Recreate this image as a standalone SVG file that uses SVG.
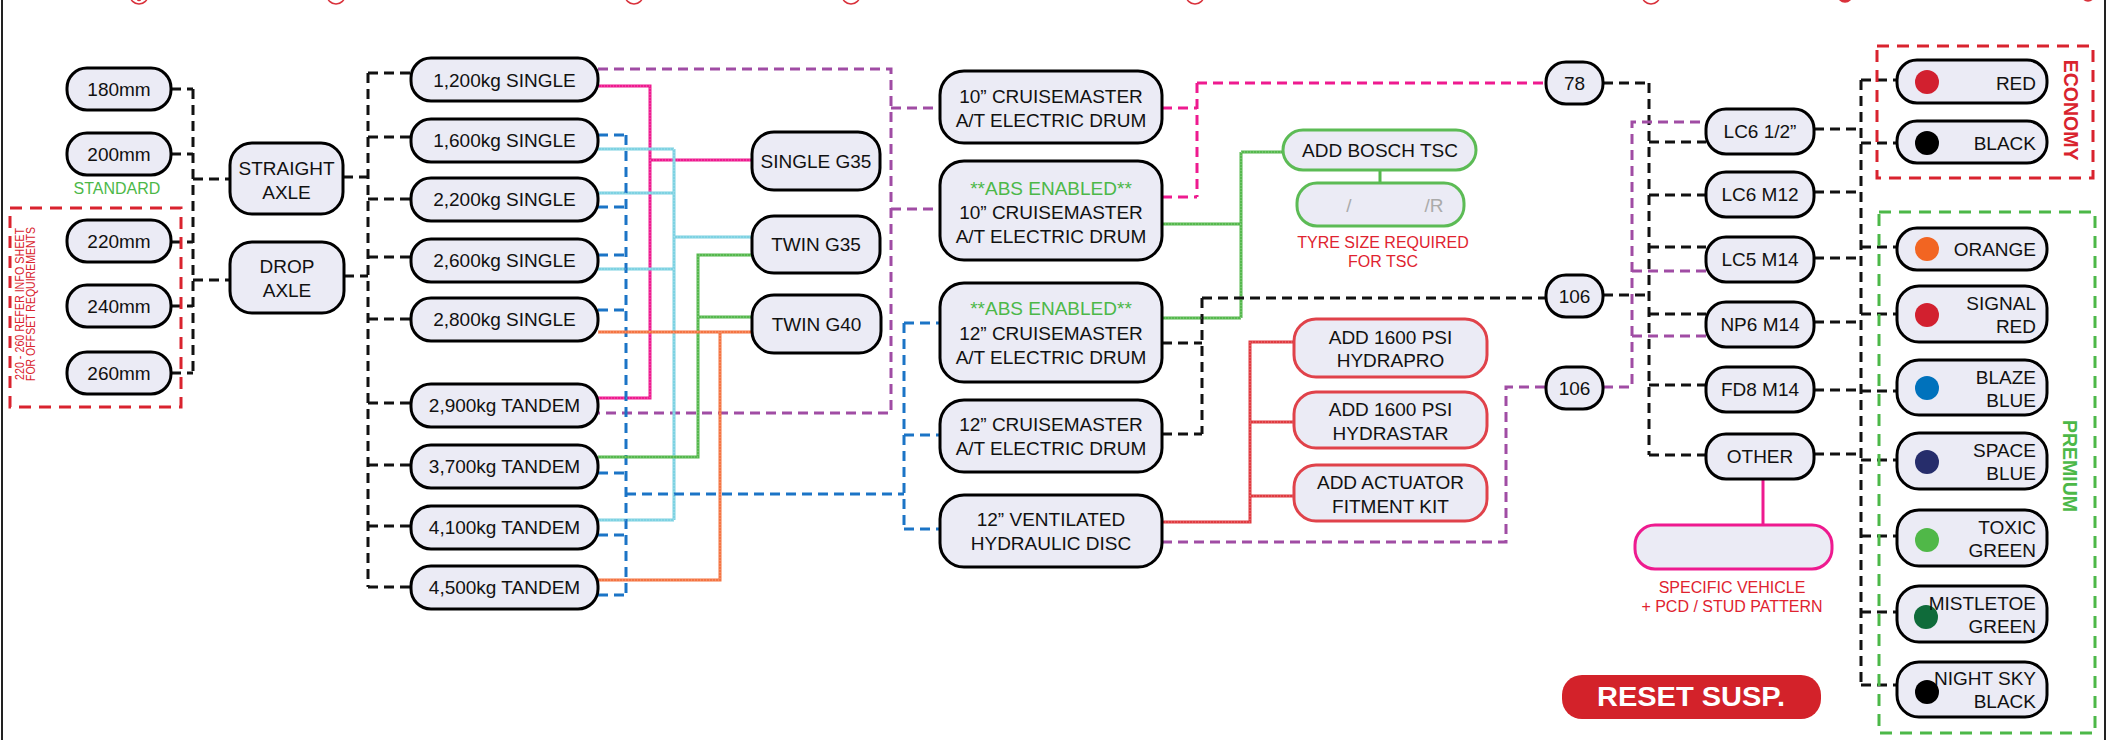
<svg xmlns="http://www.w3.org/2000/svg" width="2109" height="740" viewBox="0 0 2109 740">
<style>
.n{fill:#ebebf5;stroke:#000;stroke-width:3}
.ng{fill:#ebebf5;stroke:#5cbb55;stroke-width:3}
.nr{fill:#ebebf5;stroke:#e0424a;stroke-width:3}
.np{fill:#ebebf5;stroke:#ee1a8f;stroke-width:3}
.t{font-family:"Liberation Sans",Arial,sans-serif;font-size:19px;fill:#111;text-anchor:middle}
.tr{font-family:"Liberation Sans",Arial,sans-serif;font-size:19px;fill:#111;text-anchor:end}
.tg{fill:#4cb848}
.lbl{font-family:"Liberation Sans",Arial,sans-serif;font-size:16px;text-anchor:middle}
.d{fill:none;stroke-width:3;stroke-dasharray:10 6}
.k{stroke:#111}
.pu{stroke:#a04ca4}
.bl{stroke:#1b74c6}
.pk{stroke:#ee1a8f}
.s{fill:none;stroke-width:3}
.cy{stroke:#7dd2e2}
.gr{stroke:#55b84d}
.or{stroke:#f47442}
.rd{stroke:#e03a40}
.tex{fill:none;stroke:#fff;stroke-width:1;stroke-dasharray:1 2;opacity:0.35}
</style>
<g id="frame">
<line x1="2" y1="0" x2="2" y2="740" stroke="#222" stroke-width="2"/>
<line x1="2105" y1="0" x2="2105" y2="740" stroke="#222" stroke-width="2"/>
<g fill="none" stroke="#d9303a" stroke-width="1.5">
<circle cx="139" cy="-5" r="9"/><circle cx="139" cy="-1" r="1.5" fill="#d9303a"/>
<circle cx="336" cy="-5" r="9"/>
<circle cx="634" cy="-5" r="9"/>
<circle cx="851" cy="-5" r="9"/>
<circle cx="1195" cy="-5" r="9"/>
<circle cx="1651" cy="-5" r="9"/>
<circle cx="1845" cy="-5" r="7" fill="#d9303a"/>
<circle cx="2088" cy="-5" r="6" fill="#d9303a"/>
</g>
</g>
<g id="connectors">
<path class="d k" d="M171 89H193M171 154H193M171 242H193M171 306H193M171 373H193M193 89V373M193 179H230M193 280H230"/>
<path class="d k" d="M343 177H368M344 276H368M368 73V587M368 73H411M368 137H411M368 199H411M368 257H411M368 319H411M368 403H411M368 465H411M368 526H411M368 587H411"/>
<path class="d pu" d="M598 69H891V413H598M891 108H940M891 209H940"/>
<path class="s pk" d="M598 86H650V398H598M650 160H752"/>
<path class="s cy" d="M598 149H674M598 193H674M598 269H674M598 520H674M674 149V520M674 237H752"/>
<path class="d bl" d="M598 135H626M598 207H626M598 255H626M598 310H626M598 473H626M598 535H626M598 595H626M626 135V595M626 494H904M904 323V529M904 323H940M904 435H940M904 529H940"/>
<path class="s gr" d="M598 457H698V255H752M698 317H752"/>
<path class="s or" d="M598 332H752M598 580H720V332"/>
<path class="d pk" d="M1162 108H1197M1162 197H1197M1197 83V197M1197 83H1546"/>
<path class="s gr" d="M1162 224H1241M1162 318H1241M1241 152V318M1241 152H1283M1380 170V183"/>
<path class="d k" d="M1162 343H1202M1162 434H1202M1202 298V434M1202 298H1546"/>
<path class="s rd" d="M1162 522H1250V342H1294M1250 422H1294M1250 496H1294"/>
<path class="d pu" d="M1162 542H1506V387H1546"/>
<path class="d k" d="M1603 83H1649M1603 295H1649M1649 83V455M1649 142H1706M1649 195H1706M1649 247H1706M1649 314H1706M1649 385H1706M1649 455H1706"/>
<path class="d pu" d="M1603 387H1632V122H1706M1632 271H1706M1632 336H1706"/>
<path class="d k" d="M1814 129H1861M1814 192H1861M1814 258H1861M1814 322H1861M1814 390H1861M1814 454H1861M1861 80V685M1861 80H1897M1861 143H1897M1861 247H1897M1861 314H1897M1861 391H1897M1861 460H1897M1861 536H1897M1861 612H1897M1861 685H1897"/>
<path class="s pk" d="M1763 480V525" stroke-width="2"/>
<path class="tex" d="M598 86H650V398H598M650 160H752M598 149H674M598 193H674M598 269H674M598 520H674M674 149V520M674 237H752M598 457H698V255H752M698 317H752M598 332H752M598 580H720V332M1162 224H1241M1162 318H1241M1241 152V318M1241 152H1283M1162 522H1250V342H1294M1250 422H1294M1250 496H1294"/>
</g>
<g id="groups">
<rect x="10" y="208" width="171" height="199" fill="none" stroke="#d9232e" stroke-width="3" stroke-dasharray="12 8"/>
<text transform="translate(24,304) rotate(-90)" font-family="Liberation Sans,Arial,sans-serif" font-size="12" fill="#d9232e" text-anchor="middle" textLength="152" lengthAdjust="spacingAndGlyphs">220 - 260 REFER INFO SHEET</text>
<text transform="translate(35,304) rotate(-90)" font-family="Liberation Sans,Arial,sans-serif" font-size="12" fill="#d9232e" text-anchor="middle" textLength="154" lengthAdjust="spacingAndGlyphs">FOR OFFSET REQUIREMENTS</text>
<text class="lbl" x="117" y="194" fill="#4cb848">STANDARD</text>
<rect x="1877" y="46" width="216" height="132" fill="none" stroke="#d9232e" stroke-width="3" stroke-dasharray="12 8"/>
<text transform="translate(2064,110) rotate(90)" font-family="Liberation Sans,Arial,sans-serif" font-size="19.5" font-weight="bold" fill="#d9232e" text-anchor="middle">ECONOMY</text>
<rect x="1879" y="212" width="216" height="521" fill="none" stroke="#4cb848" stroke-width="3" stroke-dasharray="12 8"/>
<text transform="translate(2063,466) rotate(90)" font-family="Liberation Sans,Arial,sans-serif" font-size="19.5" font-weight="bold" fill="#4cb848" text-anchor="middle">PREMIUM</text>
</g>
<g id="n180"><rect class="n" x="67" y="68" width="104" height="42" rx="20"/><text class="t" x="119" y="96">180mm</text></g>
<g id="n200"><rect class="n" x="67" y="133" width="104" height="42" rx="20"/><text class="t" x="119" y="161">200mm</text></g>
<g id="n220"><rect class="n" x="67" y="220" width="104" height="42" rx="20"/><text class="t" x="119" y="248">220mm</text></g>
<g id="n240"><rect class="n" x="67" y="285" width="104" height="42" rx="20"/><text class="t" x="119" y="313">240mm</text></g>
<g id="n260"><rect class="n" x="67" y="352" width="104" height="42" rx="20"/><text class="t" x="119" y="380">260mm</text></g>
<g id="straight"><rect class="n" x="230" y="143" width="113" height="71" rx="22"/><text class="t" x="286.5" y="175">STRAIGHT</text><text class="t" x="286.5" y="199">AXLE</text></g>
<g id="drop"><rect class="n" x="230" y="242" width="114" height="71" rx="22"/><text class="t" x="287" y="273">DROP</text><text class="t" x="287" y="297">AXLE</text></g>
<g id="w1200"><rect class="n" x="411" y="58" width="187" height="43" rx="20"/><text class="t" x="504.5" y="87">1,200kg SINGLE</text></g>
<g id="w1600"><rect class="n" x="411" y="119" width="187" height="43" rx="20"/><text class="t" x="504.5" y="147">1,600kg SINGLE</text></g>
<g id="w2200"><rect class="n" x="411" y="178" width="187" height="43" rx="20"/><text class="t" x="504.5" y="206">2,200kg SINGLE</text></g>
<g id="w2600"><rect class="n" x="411" y="239" width="187" height="43" rx="20"/><text class="t" x="504.5" y="267">2,600kg SINGLE</text></g>
<g id="w2800"><rect class="n" x="411" y="298" width="187" height="43" rx="20"/><text class="t" x="504.5" y="326">2,800kg SINGLE</text></g>
<g id="w2900"><rect class="n" x="411" y="384" width="187" height="43" rx="20"/><text class="t" x="504.5" y="412">2,900kg TANDEM</text></g>
<g id="w3700"><rect class="n" x="411" y="445" width="187" height="43" rx="20"/><text class="t" x="504.5" y="473">3,700kg TANDEM</text></g>
<g id="w4100"><rect class="n" x="411" y="506" width="187" height="43" rx="20"/><text class="t" x="504.5" y="534">4,100kg TANDEM</text></g>
<g id="w4500"><rect class="n" x="411" y="566" width="187" height="43" rx="20"/><text class="t" x="504.5" y="594">4,500kg TANDEM</text></g>
<g id="sg35"><rect class="n" x="752" y="132" width="128" height="58" rx="22"/><text class="t" x="816" y="168">SINGLE G35</text></g>
<g id="tg35"><rect class="n" x="752" y="216" width="128" height="57" rx="22"/><text class="t" x="816" y="251">TWIN G35</text></g>
<g id="tg40"><rect class="n" x="752" y="295" width="129" height="58" rx="22"/><text class="t" x="816.5" y="331">TWIN G40</text></g>
<g id="b10"><rect class="n" x="940" y="71" width="222" height="72" rx="24"/><text class="t" x="1051" y="103">10” CRUISEMASTER</text><text class="t" x="1051" y="127">A/T ELECTRIC DRUM</text></g>
<g id="b10abs"><rect class="n" x="940" y="161" width="222" height="99" rx="24"/><text class="t tg" x="1051" y="195">**ABS ENABLED**</text><text class="t" x="1051" y="219">10” CRUISEMASTER</text><text class="t" x="1051" y="243">A/T ELECTRIC DRUM</text></g>
<g id="b12abs"><rect class="n" x="940" y="283" width="222" height="99" rx="24"/><text class="t tg" x="1051" y="315">**ABS ENABLED**</text><text class="t" x="1051" y="340">12” CRUISEMASTER</text><text class="t" x="1051" y="364">A/T ELECTRIC DRUM</text></g>
<g id="b12"><rect class="n" x="940" y="400" width="222" height="72" rx="24"/><text class="t" x="1051" y="431">12” CRUISEMASTER</text><text class="t" x="1051" y="455">A/T ELECTRIC DRUM</text></g>
<g id="bvent"><rect class="n" x="940" y="495" width="222" height="72" rx="24"/><text class="t" x="1051" y="526">12” VENTILATED</text><text class="t" x="1051" y="550">HYDRAULIC DISC</text></g>
<g id="bosch"><rect class="ng" x="1283" y="130" width="193" height="40" rx="20"/><text class="t" x="1380" y="157">ADD BOSCH TSC</text></g>
<g id="tyre"><rect class="ng" x="1297" y="183" width="167" height="43" rx="20"/><text class="t" x="1349" y="212" style="fill:#aaa">/</text><text class="t" x="1434" y="212" style="fill:#aaa">/R</text>
<text class="lbl" x="1383" y="248" fill="#e0232f">TYRE SIZE REQUIRED</text><text class="lbl" x="1383" y="267" fill="#e0232f">FOR TSC</text></g>
<g id="hydrapro"><rect class="nr" x="1294" y="319" width="193" height="58" rx="22"/><text class="t" x="1390.5" y="344">ADD 1600 PSI</text><text class="t" x="1390.5" y="367">HYDRAPRO</text></g>
<g id="hydrastar"><rect class="nr" x="1294" y="392" width="193" height="56" rx="22"/><text class="t" x="1390.5" y="416">ADD 1600 PSI</text><text class="t" x="1390.5" y="440">HYDRASTAR</text></g>
<g id="actuator"><rect class="nr" x="1294" y="465" width="193" height="56" rx="22"/><text class="t" x="1390.5" y="489">ADD ACTUATOR</text><text class="t" x="1390.5" y="513">FITMENT KIT</text></g>
<g id="p78"><rect class="n" x="1546" y="62" width="57" height="42" rx="20"/><text class="t" x="1574.5" y="90">78</text></g>
<g id="p106a"><rect class="n" x="1546" y="275" width="57" height="42" rx="20"/><text class="t" x="1574.5" y="303">106</text></g>
<g id="p106b"><rect class="n" x="1546" y="367" width="57" height="42" rx="20"/><text class="t" x="1574.5" y="395">106</text></g>
<g id="lc612"><rect class="n" x="1706" y="109" width="108" height="45" rx="20"/><text class="t" x="1760" y="138">LC6 1/2”</text></g>
<g id="lc6m12"><rect class="n" x="1706" y="172" width="108" height="45" rx="20"/><text class="t" x="1760" y="201">LC6 M12</text></g>
<g id="lc5m14"><rect class="n" x="1706" y="237" width="108" height="45" rx="20"/><text class="t" x="1760" y="266">LC5 M14</text></g>
<g id="np6m14"><rect class="n" x="1706" y="302" width="108" height="45" rx="20"/><text class="t" x="1760" y="331">NP6 M14</text></g>
<g id="fd8m14"><rect class="n" x="1706" y="367" width="108" height="45" rx="20"/><text class="t" x="1760" y="396">FD8 M14</text></g>
<g id="other"><rect class="n" x="1706" y="434" width="108" height="45" rx="20"/><text class="t" x="1760" y="463">OTHER</text></g>
<g id="vehicle"><rect class="np" x="1635" y="525" width="197" height="44" rx="20"/>
<text class="lbl" x="1732" y="593" fill="#e0232f">SPECIFIC VEHICLE</text><text class="lbl" x="1732" y="612" fill="#e0232f">+ PCD / STUD PATTERN</text></g>
<g id="cred"><rect class="n" x="1897" y="60" width="150" height="43" rx="20"/><circle cx="1927" cy="82" r="12" fill="#d2202f"/><text class="tr" x="2036" y="90">RED</text></g>
<g id="cblack"><rect class="n" x="1897" y="121" width="150" height="42" rx="20"/><circle cx="1927" cy="143" r="12" fill="#000"/><text class="tr" x="2036" y="150">BLACK</text></g>
<g id="corange"><rect class="n" x="1897" y="228" width="150" height="42" rx="20"/><circle cx="1927" cy="249" r="12" fill="#f26522"/><text class="tr" x="2036" y="256">ORANGE</text></g>
<g id="csignal"><rect class="n" x="1897" y="286" width="150" height="56" rx="22"/><circle cx="1927" cy="315" r="12" fill="#d2202f"/><text class="tr" x="2036" y="310">SIGNAL</text><text class="tr" x="2036" y="333">RED</text></g>
<g id="cblaze"><rect class="n" x="1897" y="360" width="150" height="55" rx="22"/><circle cx="1927" cy="388" r="12" fill="#0072bc"/><text class="tr" x="2036" y="384">BLAZE</text><text class="tr" x="2036" y="407">BLUE</text></g>
<g id="cspace"><rect class="n" x="1897" y="433" width="150" height="56" rx="22"/><circle cx="1927" cy="462" r="12" fill="#262d6b"/><text class="tr" x="2036" y="457">SPACE</text><text class="tr" x="2036" y="480">BLUE</text></g>
<g id="ctoxic"><rect class="n" x="1897" y="510" width="150" height="56" rx="22"/><circle cx="1927" cy="540" r="12" fill="#50b848"/><text class="tr" x="2036" y="534">TOXIC</text><text class="tr" x="2036" y="557">GREEN</text></g>
<g id="cmistle"><rect class="n" x="1897" y="586" width="150" height="56" rx="22"/><circle cx="1926" cy="617" r="12" fill="#0f6b3a"/><text class="tr" x="2036" y="610">MISTLETOE</text><text class="tr" x="2036" y="633">GREEN</text></g>
<g id="cnight"><rect class="n" x="1897" y="662" width="150" height="55" rx="22"/><circle cx="1927" cy="692" r="12" fill="#000"/><text class="tr" x="2036" y="685">NIGHT SKY</text><text class="tr" x="2036" y="708">BLACK</text></g>
<g id="reset"><rect x="1562" y="675" width="259" height="44" rx="20" fill="#d3222a"/><text x="1691" y="706" font-family="Liberation Sans,Arial,sans-serif" font-size="27" font-weight="bold" fill="#fff" text-anchor="middle" textLength="188" lengthAdjust="spacingAndGlyphs">RESET SUSP.</text></g>
</svg>
